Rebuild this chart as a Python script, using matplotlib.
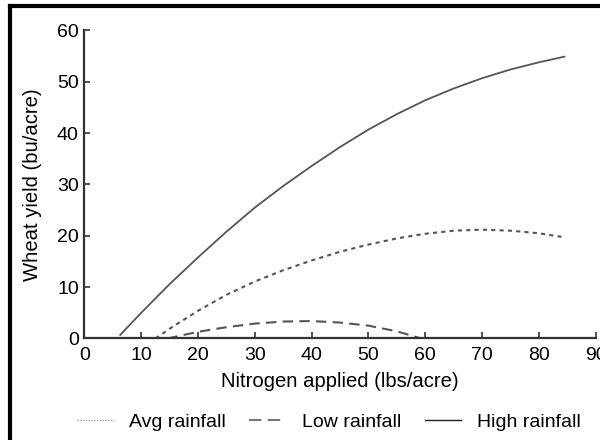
import matplotlib
matplotlib.use('Agg')
import matplotlib.pyplot as plt
from matplotlib.lines import Line2D

plt.rcParams['font.family'] = ['Liberation Sans', 'DejaVu Sans']

# --- data ---
n_high = [6.3, 10, 15, 20, 25, 30, 35, 40, 45, 50, 55, 60, 65, 70, 75, 80, 84.5]
y_high = [0.7, 5.0, 10.6, 15.8, 20.8, 25.5, 29.7, 33.6, 37.3, 40.7, 43.7, 46.4, 48.7, 50.7, 52.4, 53.8, 54.9]

n_avg = [12.5, 15, 20, 25, 30, 35, 40, 45, 50, 55, 60, 65, 70, 75, 80, 84]
y_avg = [0.0, 1.9, 5.4, 8.5, 11.1, 13.3, 15.2, 16.9, 18.3, 19.5, 20.4, 21.0, 21.2, 21.0, 20.5, 19.8]

n_low = [14.6, 20, 25, 30, 35, 40, 45, 50, 55, 59.3]
y_low = [0.0, 1.3, 2.2, 2.9, 3.3, 3.4, 3.1, 2.5, 1.4, 0.0]

labels = ['Avg rainfall', 'Low rainfall', 'High rainfall']
line_col = '#555555'
fs = 14

fig = plt.figure(figsize=(6, 4.4), dpi=100)
ax = fig.add_axes([0.1407, 0.2307, 0.852, 0.700])

ax.plot(n_avg, y_avg, color=line_col, lw=1.5, linestyle=(0, (2, 2)))
ax.plot(n_low, y_low, color=line_col, lw=1.5, linestyle=(0, (5, 3)))
ax.plot(n_high, y_high, color=line_col, lw=1.3, linestyle='-')

ax.set_xlim(0, 90)
ax.set_ylim(0, 60)
ax.set_xticks(range(0, 91, 10))
ax.set_yticks(range(0, 61, 10))
ax.tick_params(direction='in', length=4, width=1.2, labelsize=fs, color='#333333')
ax.tick_params(axis='x', pad=6)
ax.tick_params(axis='y', pad=4)

for s in ['top', 'right']:
    ax.spines[s].set_visible(False)
for s in ['left', 'bottom']:
    ax.spines[s].set_linewidth(1.6)
    ax.spines[s].set_color('#333333')

ax.set_xlabel('Nitrogen applied (lbs/acre)', fontsize=14.6, labelpad=6)
ax.set_ylabel('Wheat yield (bu/acre)', fontsize=14.6, labelpad=11)

handles = [
    Line2D([], [], color='#999999', lw=1.0, linestyle=(0, (1, 1))),
    Line2D([], [], color='#777777', lw=1.5, linestyle=(0, (6, 3))),
    Line2D([], [], color='#222222', lw=1.0, linestyle='-'),
]
fig.legend(handles, labels, loc='center', bbox_to_anchor=(0.548, 0.04), ncol=3,
           frameon=False, fontsize=fs, handlelength=1.9, handletextpad=0.8,
           columnspacing=1.2)

# border along the top and left of the figure
fig.add_artist(Line2D([0.017, 0.017], [0, 0.986], color='black', lw=3, transform=fig.transFigure))
fig.add_artist(Line2D([0.017, 1.0], [0.986, 0.986], color='black', lw=3, transform=fig.transFigure))

fig.savefig('out.png', dpi=100)
